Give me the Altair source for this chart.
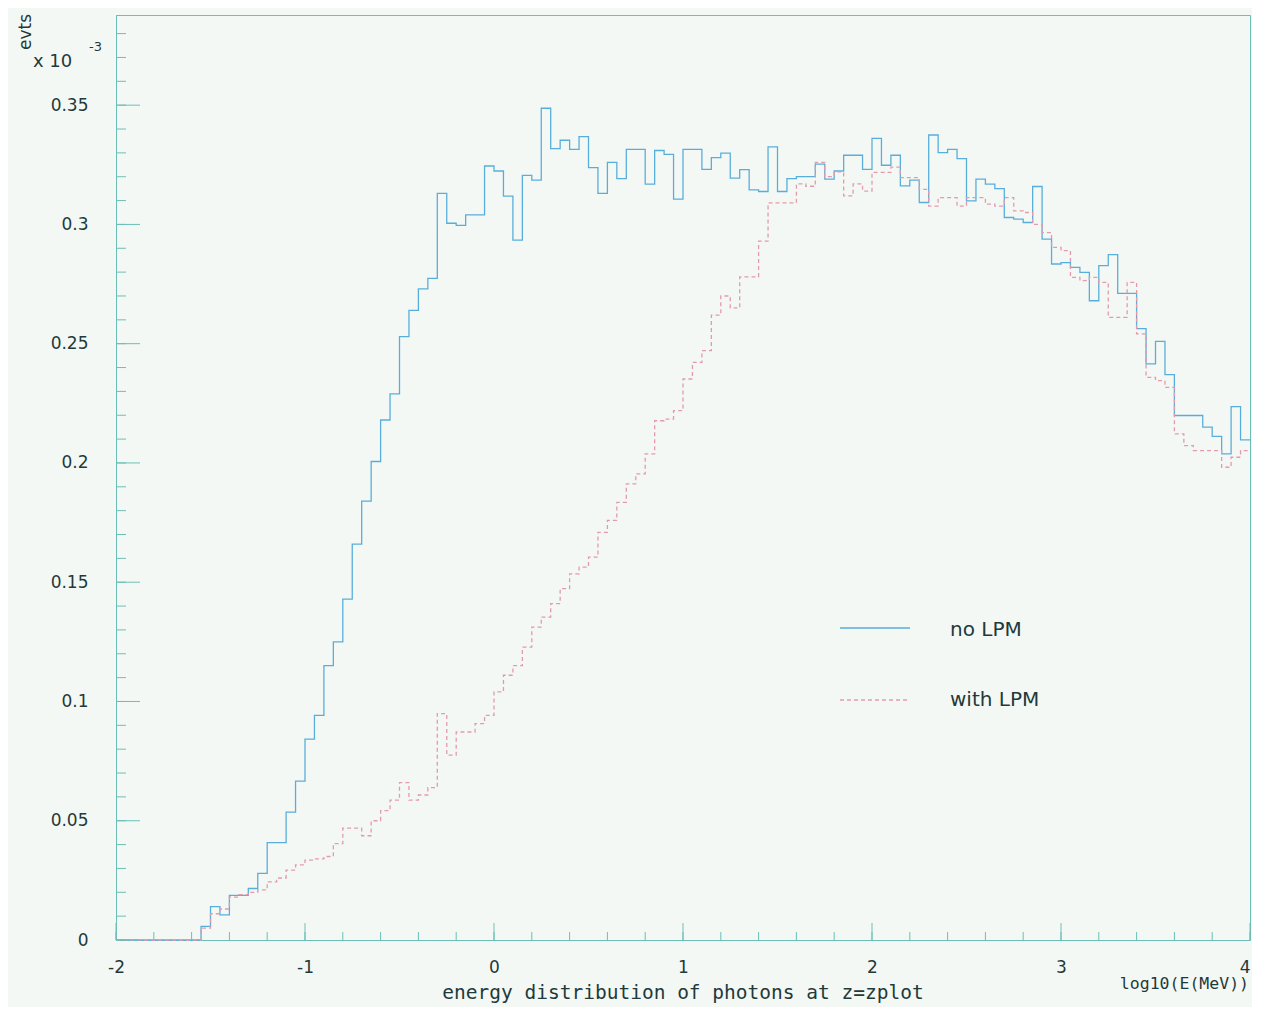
import altair as alt
import pandas as pd

# ---- data (histogram contents, 120 bins of 0.05 from -2 to 4, units of 1e-3) ----
bin_start = -2.0
bin_width = 0.05
no_lpm = [0.0] * 9 + [
    0.0057, 0.0140, 0.0105, 0.0187, 0.0187, 0.0216, 0.0279, 0.0408, 0.0408, 0.0536,
    0.0666, 0.0842, 0.0942, 0.1150, 0.1250, 0.1429, 0.1660, 0.1840, 0.2006, 0.2180,
    0.2290, 0.2530, 0.2640, 0.2730, 0.2774, 0.3130, 0.3005, 0.2996, 0.3040, 0.3040,
    0.3245, 0.3224, 0.3119, 0.2934, 0.3206, 0.3186, 0.3487, 0.3318, 0.3353, 0.3315,
    0.3368, 0.3238, 0.3130, 0.3260, 0.3192, 0.3315, 0.3315, 0.3169, 0.3310, 0.3294,
    0.3106, 0.3315, 0.3315, 0.3231, 0.3280, 0.3299, 0.3194, 0.3230, 0.3145, 0.3138,
    0.3325, 0.3138, 0.3192, 0.3200, 0.3200, 0.3253, 0.3190, 0.3224, 0.3290, 0.3290,
    0.3231, 0.3361, 0.3248, 0.3290, 0.3162, 0.3186, 0.3092, 0.3375, 0.3301, 0.3315,
    0.3276, 0.3099, 0.3190, 0.3169, 0.3150, 0.3029, 0.3022, 0.3008, 0.3159, 0.2938,
    0.2834, 0.2840, 0.2820, 0.2799, 0.2680, 0.2827, 0.2873, 0.2711, 0.2711, 0.2563,
    0.2415, 0.2510, 0.2370, 0.2199, 0.2199, 0.2199, 0.2150, 0.2111, 0.2038, 0.2236,
    0.2097,
]
with_lpm = [0.0] * 9 + [
    0.0050, 0.0110, 0.0130, 0.0180, 0.0190, 0.0200, 0.0210, 0.0244, 0.0260, 0.0293,
    0.0315, 0.0335, 0.0340, 0.0350, 0.0404, 0.0469, 0.0469, 0.0437, 0.0500, 0.0542,
    0.0586, 0.0660, 0.0586, 0.0608, 0.0639, 0.0949, 0.0775, 0.0872, 0.0872, 0.0907,
    0.0942, 0.1040, 0.1110, 0.1150, 0.1228, 0.1312, 0.1354, 0.1410, 0.1473, 0.1535,
    0.1563, 0.1605, 0.1709, 0.1759, 0.1835, 0.1912, 0.1954, 0.2038, 0.2177, 0.2184,
    0.2219, 0.2352, 0.2422, 0.2471, 0.2620, 0.2700, 0.2650, 0.2780, 0.2780, 0.2930,
    0.3090, 0.3090, 0.3090, 0.3170, 0.3160, 0.3260, 0.3200, 0.3220, 0.3120, 0.3170,
    0.3140, 0.3218, 0.3218, 0.3240, 0.3196, 0.3196, 0.3147, 0.3077, 0.3112, 0.3112,
    0.3077, 0.3112, 0.3112, 0.3085, 0.3077, 0.3112, 0.3057, 0.3050, 0.3000, 0.2966,
    0.2904, 0.2890, 0.2778, 0.2764, 0.2778, 0.2757, 0.2610, 0.2610, 0.2757, 0.2541,
    0.2359, 0.2345, 0.2317, 0.2122, 0.2073, 0.2052, 0.2052, 0.2052, 0.1982, 0.2024,
    0.2052,
]
series_names = ["no LPM", "with LPM"]
x_major = [-2, -1, 0, 1, 2, 3, 4]
x_minor = [round(-2 + 0.2 * i, 1) for i in range(31)]
y_major = [0, 0.05, 0.1, 0.15, 0.2, 0.25, 0.3, 0.35]
y_minor = [round(0.01 * i, 2) for i in range(39)]
x_title = "energy distribution of photons at z=zplot"
x_unit = "log10(E(MeV))"
y_title = "evts"
y_mult = "x 10"
y_exp = "-3"

# ---- styling ----
W, H = 1134, 925
BG = "#f4f8f5"
FRAME = "#6cbfb6"
TXT = "#1f3a3a"
BLUE = "#58aedb"
RED = "#e39aac"
FONT = "DejaVu Sans"
MONO = "DejaVu Sans Mono"

rows = []
for name, vals in zip(series_names, [no_lpm, with_lpm]):
    for i, v in enumerate(vals):
        rows.append({"x": round(bin_start + bin_width * i, 4), "v": v, "s": name})
    rows.append({"x": round(bin_start + bin_width * len(vals), 4), "v": vals[-1], "s": name})
df = pd.DataFrame(rows)

xscale = alt.Scale(domain=[-2, 4], nice=False, zero=False)
yscale = alt.Scale(domain=[0, 0.3878], nice=False, zero=False)
x_axis = alt.Axis(
    values=x_major, labelExpr="'' + datum.value", ticks=False, grid=False,
    labelPadding=19, labelFlush=False, labelFont=FONT, labelFontSize=17,
    labelAlign={"condition": {"test": f"datum.value == {x_major[-1]}", "value": "right"}, "value": "center"},
    labelColor=TXT, domainColor=FRAME, domainWidth=1, title=None)
y_axis = alt.Axis(
    values=y_major, labelExpr="'' + datum.value", ticks=False, grid=False,
    labelPadding=28, labelFont=FONT, labelFontSize=17, labelColor=TXT,
    domainColor=FRAME, domainWidth=1, title=None)

hist = alt.Chart(df).mark_line(interpolate="step-after", strokeWidth=1.3).encode(
    x=alt.X("x:Q", scale=xscale, axis=x_axis),
    y=alt.Y("v:Q", scale=yscale, axis=y_axis),
    color=alt.Color("s:N", scale=alt.Scale(domain=series_names, range=[BLUE, RED]), legend=None),
    strokeDash=alt.StrokeDash("s:N", scale=alt.Scale(domain=series_names, range=[[1, 0], [4, 3]]), legend=None),
    detail="s:N",
)

def xticks(vals, length):
    return alt.Chart(pd.DataFrame({"x": vals})).mark_rule(color=FRAME, strokeWidth=1).encode(
        x=alt.X("x:Q", scale=xscale, axis=x_axis),
        y=alt.value(H), y2=alt.value(H - length))

def yticks(vals, length):
    return alt.Chart(pd.DataFrame({"v": vals})).mark_rule(color=FRAME, strokeWidth=1).encode(
        y=alt.Y("v:Q", scale=yscale, axis=y_axis),
        x=alt.value(0), x2=alt.value(length))

one = pd.DataFrame({"a": [0]})

def text(t, x, y, size, align="left", baseline="middle", angle=0, font=FONT):
    return alt.Chart(one).mark_text(
        text=t, align=align, baseline=baseline, angle=angle, font=font,
        fontSize=size, color=TXT).encode(x=alt.value(x), y=alt.value(y))

leg_solid = alt.Chart(one).mark_rule(color=BLUE, strokeWidth=1.3).encode(
    x=alt.value(724), x2=alt.value(794), y=alt.value(613))
leg_dash = alt.Chart(one).mark_rule(color=RED, strokeWidth=1.3, strokeDash=[4, 3]).encode(
    x=alt.value(724), x2=alt.value(794), y=alt.value(685))

chart = alt.layer(
    hist,
    xticks(x_minor, 8), xticks(x_major, 17),
    yticks(y_minor, 10), yticks(y_major, 24),
    leg_solid, leg_dash,
    text(series_names[0], 834, 615, 20),
    text(series_names[1], 834, 685, 20),
    text(x_title, 567, 978, 19.5, align="center", font=MONO),
    text(x_unit, 1133, 969, 16.5, align="right", font=MONO),
    text(y_title, -85, 35, 17, align="left", baseline="alphabetic", angle=270),
    text(y_mult, -83, 52, 18, baseline="alphabetic"),
    text(y_exp, -27, 36, 13, baseline="alphabetic"),
).properties(
    width=W, height=H,
    autosize=alt.AutoSizeParams(type="none"),
    padding={"left": 108, "top": 7, "right": 2, "bottom": 67},
    background=BG,
).configure_view(stroke=FRAME, strokeWidth=1, fill=BG)

chart.save("out.html", embed_options={"renderer": "svg", "actions": False})
